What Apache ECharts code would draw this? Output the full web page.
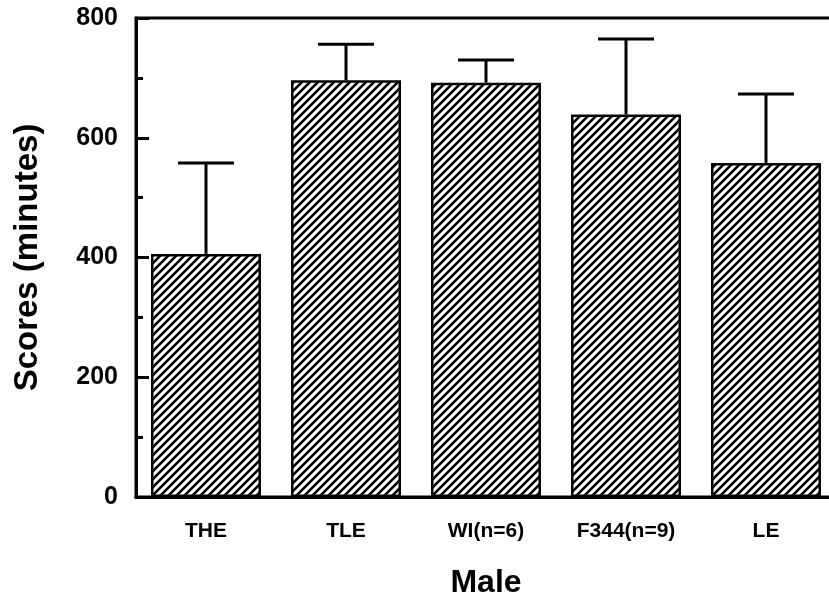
<!DOCTYPE html>
<html>
<head>
<meta charset="utf-8">
<script src="https://cdn.jsdelivr.net/npm/echarts@6/dist/echarts.min.js"></script>
<style>
html,body{margin:0;padding:0;background:#fff;}
#chart{width:829px;height:602px;}
</style>
</head>
<body>
<div id="chart"></div>
<script>
const categories = ['THE', 'TLE', 'WI(n=6)', 'F344(n=9)', 'LE'];
const means = [406, 696, 692, 639, 558];
const upperErr = [558, 756, 730, 765, 673];
const yTicks = [0, 200, 400, 600, 800];

function hatch() {
  const c = document.createElement('canvas');
  c.width = 8; c.height = 8;
  const g = c.getContext('2d');
  g.fillStyle = '#fff'; g.fillRect(0, 0, 8, 8);
  g.strokeStyle = '#000'; g.lineWidth = 2.6; g.lineCap = 'square';
  g.beginPath();
  g.moveTo(-2, 10); g.lineTo(10, -2);
  g.moveTo(-2, 2); g.lineTo(2, -2);
  g.moveTo(6, 10); g.lineTo(10, 6);
  g.stroke();
  return c;
}

const chart = echarts.init(document.getElementById('chart'), null, {renderer: 'canvas'});
const font = '"Liberation Sans", Arial, Helvetica, sans-serif';

chart.setOption({
  animation: false,
  backgroundColor: '#fff',
  grid: {left: 136, top: 18, width: 700, height: 479, show: true, borderColor: '#000', borderWidth: 3,
         backgroundColor: 'transparent', containLabel: false, outerBoundsMode: 'none'},
  xAxis: {
    type: 'category',
    data: categories,
    name: 'Male',
    nameLocation: 'middle',
    nameGap: 70,
    nameTextStyle: {fontFamily: font, fontWeight: 'bold', fontSize: 32, color: '#000'},
    axisLine: {lineStyle: {color: '#000', width: 3}},
    axisTick: {show: false},
    axisLabel: {fontFamily: font, fontWeight: 'bold', fontSize: 21, color: '#000', margin: 24, interval: 0}
  },
  yAxis: {
    type: 'value',
    min: yTicks[0],
    max: yTicks[yTicks.length - 1],
    interval: 200,
    name: 'Scores (minutes)',
    nameLocation: 'middle',
    nameGap: 92,
    nameTextStyle: {fontFamily: font, fontWeight: 'bold', fontSize: 33, color: '#000'},
    axisLine: {show: true, lineStyle: {color: '#000', width: 3}},
    axisTick: {show: true, inside: true, length: 13, lineStyle: {color: '#000', width: 3}},
    minorTick: {show: true, splitNumber: 2, length: 7, lineStyle: {color: '#000', width: 3}},
    splitLine: {show: false},
    axisLabel: {fontFamily: font, fontWeight: 'bold', fontSize: 25, color: '#000', margin: 18}
  },
  series: [
    {
      type: 'bar',
      data: means,
      barWidth: 110,
      itemStyle: {color: {image: hatch(), repeat: 'repeat'}, borderColor: '#000', borderWidth: 2.5},
      z: 2
    },
    {
      type: 'custom',
      data: means.map((m, i) => [i, m, upperErr[i]]),
      encode: {x: 0, y: [1, 2]},
      z: 3,
      renderItem: function (params, api) {
        const base = api.coord([api.value(0), api.value(1)]);
        const top = api.coord([api.value(0), api.value(2)]);
        const hw = 28;
        const st = {stroke: '#000', lineWidth: 3};
        return {
          type: 'group',
          children: [
            {type: 'line', shape: {x1: base[0], y1: base[1], x2: top[0], y2: top[1]}, style: st},
            {type: 'line', shape: {x1: top[0] - hw, y1: top[1], x2: top[0] + hw, y2: top[1]}, style: st}
          ]
        };
      }
    }
  ]
});
</script>
</body>
</html>
